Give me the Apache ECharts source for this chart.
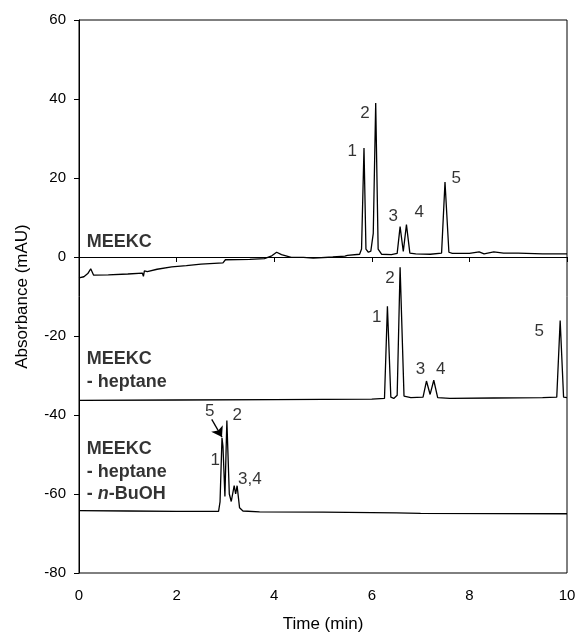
<!DOCTYPE html>
<html>
<head>
<meta charset="utf-8">
<script src="https://cdn.jsdelivr.net/npm/echarts@6/dist/echarts.min.js"></script>
<style>
  html, body { margin: 0; padding: 0; background: #fff; }
  #chart { width: 578px; height: 635px; }
</style>
</head>
<body>
<div id="chart"></div>
<script>
// Electropherograms: time (min) vs absorbance (mAU), three run buffers offset vertically.
const xTicks = [0, 2, 4, 6, 8, 10];
const yTicks = [-80, -60, -40, -20, 0, 20, 40, 60];

// MEEKC
const traceMeekc = [
  [0.00, -5.3], [0.10, -5.0], [0.18, -4.2], [0.24, -3.0], [0.28, -2.5], [0.30, -4.6],
  [0.60, -4.5], [1.00, -4.3], [1.30, -4.1], [1.32, -4.9], [1.34, -3.5], [1.40, -3.7],
  [1.60, -3.1], [1.90, -2.5], [2.20, -2.2], [2.50, -1.8], [2.95, -1.5], [3.00, -0.7],
  [3.50, -0.6], [3.80, -0.4], [3.95, 0.3], [4.05, 1.2], [4.15, 0.6], [4.35, -0.1],
  [4.60, -0.1], [4.80, -0.3], [5.20, 0.0], [5.45, 0.2], [5.50, 0.4], [5.75, 0.7],
  [5.79, 2.0], [5.84, 27.6], [5.88, 2.0], [5.93, 1.2], [5.98, 1.5], [6.03, 6.0],
  [6.08, 39.0], [6.13, 2.0], [6.20, 0.7], [6.40, 0.6], [6.52, 0.9], [6.58, 7.7],
  [6.645, 1.4], [6.71, 8.2], [6.78, 1.0], [6.90, 0.8], [7.20, 0.7], [7.43, 1.0],
  [7.50, 19.0], [7.58, 1.2], [7.65, 0.9], [8.00, 0.9], [8.20, 1.3], [8.30, 0.8],
  [8.50, 1.3], [8.70, 1.0], [9.00, 1.0], [9.50, 0.8], [10.00, 0.8]
];

// MEEKC - heptane
const traceHeptane = [
  [0.00, -36.3], [2.00, -36.2], [4.00, -36.1], [6.00, -36.0], [6.26, -35.8],
  [6.32, -12.5], [6.39, -35.5], [6.45, -35.8], [6.52, -35.0], [6.58, -2.6],
  [6.66, -35.2], [6.80, -35.6], [7.05, -35.5], [7.12, -31.4], [7.195, -34.8],
  [7.27, -31.2], [7.35, -35.6], [7.60, -35.8], [8.50, -35.7], [9.50, -35.6],
  [9.79, -35.5], [9.86, -16.1], [9.93, -35.5], [10.00, -35.6]
];

// MEEKC - heptane - n-BuOH
const traceBuoh = [
  [0.00, -64.2], [1.00, -64.3], [2.00, -64.4], [2.86, -64.4], [2.89, -62.0],
  [2.93, -45.8], [2.95, -47.9], [2.99, -60.6], [3.03, -41.4], [3.08, -60.0],
  [3.12, -61.9], [3.18, -57.9], [3.21, -60.0], [3.24, -57.9], [3.29, -63.5],
  [3.36, -64.3], [3.70, -64.5], [5.00, -64.6], [6.50, -64.8], [7.00, -64.9],
  [10.00, -65.0]
];

// Peak numbers: [time, absorbance, text]
const peakLabels = [
  [5.60, 26.7, '1'], [5.86, 36.5, '2'], [6.44, 10.3, '3'], [6.97, 11.3, '4'], [7.73, 19.8, '5'],
  [6.10, -15.2, '1'], [6.37, -5.5, '2'], [7.00, -28.5, '3'], [7.41, -28.4, '4'], [9.43, -18.8, '5'],
  [2.68, -39.1, '5'], [3.24, -40.2, '2'], [2.79, -51.4, '1'], [3.50, -56.2, '3,4']
];

// Buffer names: [time, absorbance, text]
const bufferLabels = [
  [0.16, 3.9, '{b|MEEKC}'],
  [0.16, -28.7, '{b|MEEKC}\n{b|- heptane}'],
  [0.16, -54.4, '{b|MEEKC}\n{b|- heptane}\n{b|- }{bi|n}{b|-BuOH}']
];

// Arrow pointing at the co-migrating peaks 1 and 5
const arrowFrom = [2.72, -41.1];
const arrowTo = [2.93, -45.6];

const FONT = '"Liberation Sans", Arial, Helvetica, sans-serif';

const chart = echarts.init(document.getElementById('chart'), null, { renderer: 'canvas' });

const lineStyle = { color: '#000', width: 1.3 };

chart.setOption({
  animation: false,
  backgroundColor: '#fff',
  grid: {
    left: 79, right: 11, top: 20, bottom: 62,
    outerBoundsMode: 'none', containLabel: false,
    show: true, borderColor: '#000', borderWidth: 1, backgroundColor: 'transparent'
  },
  xAxis: {
    type: 'value', min: xTicks[0], max: xTicks[xTicks.length - 1], interval: 2,
    name: 'Time (min)', nameLocation: 'middle', nameGap: 43,
    nameTextStyle: { fontFamily: FONT, fontSize: 17, color: '#000' },
    axisLine: { show: true, lineStyle: { color: '#000', width: 1 } },
    axisTick: { show: true, inside: false, length: 5, lineStyle: { color: '#000' } },
    axisLabel: { fontFamily: FONT, fontSize: 15, color: '#000', margin: 15 },
    splitLine: { show: false }
  },
  yAxis: {
    type: 'value', min: yTicks[0], max: yTicks[yTicks.length - 1], interval: 20,
    name: 'Absorbance (mAU)', nameLocation: 'middle', nameGap: 48,
    nameTextStyle: { fontFamily: FONT, fontSize: 17, color: '#000' },
    axisLine: { show: true, lineStyle: { color: '#000', width: 1 } },
    axisTick: { show: true, inside: false, length: 5, lineStyle: { color: '#000' } },
    axisLabel: { fontFamily: FONT, fontSize: 15, color: '#000', margin: 13 },
    splitLine: { show: false }
  },
  series: [
    { type: 'line', data: traceMeekc, symbol: 'none', lineStyle, silent: true },
    { type: 'line', data: traceHeptane, symbol: 'none', lineStyle, silent: true },
    {
      type: 'line', data: traceBuoh, symbol: 'none', lineStyle, silent: true,
      markLine: {
        silent: true, symbol: ['none', 'arrow'], symbolSize: 10,
        lineStyle: { color: '#000', width: 1.3, type: 'solid' },
        itemStyle: { color: '#000' },
        label: { show: false },
        emphasis: { disabled: true },
        data: [[{ coord: arrowFrom }, { coord: arrowTo }]]
      }
    },
    {
      type: 'scatter', data: peakLabels, symbolSize: 0, silent: true,
      label: {
        show: true, position: 'inside', formatter: p => p.data[2],
        fontFamily: FONT, fontSize: 17, color: '#000',
        textBorderWidth: 0, textBorderColor: 'transparent'
      }
    },
    {
      type: 'scatter', data: bufferLabels, symbolSize: 0, silent: true,
      label: {
        show: true, position: 'inside', align: 'left', verticalAlign: 'middle',
        formatter: p => p.data[2], color: '#000',
        textBorderWidth: 0, textBorderColor: 'transparent',
        rich: {
          b: { fontFamily: FONT, fontSize: 18, fontWeight: 'bold', color: '#000', lineHeight: 22.5,
               textBorderWidth: 0 },
          bi: { fontFamily: FONT, fontSize: 18, fontWeight: 'bold', fontStyle: 'italic', color: '#000',
                lineHeight: 22.5, textBorderWidth: 0 }
        }
      }
    }
  ]
});
</script>
</body>
</html>
